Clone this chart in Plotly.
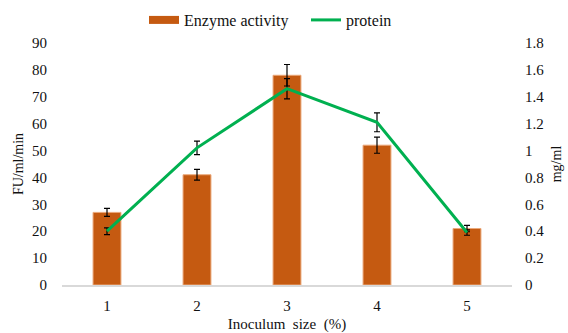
import plotly.graph_objects as go

inoculum = [1, 2, 3, 4, 5]
enzyme_activity = [27, 41, 78, 52, 21]
enzyme_err = [1.5, 2, 4, 3, 1.2]
protein = [0.40, 1.02, 1.46, 1.21, 0.39]
protein_err = [0.025, 0.05, 0.075, 0.07, 0.02]

font_family = "Liberation Serif"
orange = "#C55A11"
green = "#00B050"

fig = go.Figure()
fig.add_trace(go.Bar(
    x=inoculum, y=enzyme_activity, name="Enzyme activity",
    marker=dict(color=orange, line=dict(color="#EBA87A", width=1)),
    width=0.31, showlegend=False,
    error_y=dict(type="data", array=enzyme_err, color="black", thickness=1.2, width=3),
    yaxis="y",
))
# legend entry for bars (wide rectangle swatch)
fig.add_trace(go.Scatter(
    x=[None], y=[None], name="Enzyme activity", mode="lines",
    line=dict(color=orange, width=8), legend="legend", yaxis="y",
))
fig.add_trace(go.Scatter(
    x=inoculum, y=protein, name="protein", mode="lines",
    line=dict(color=green, width=3),
    error_y=dict(type="data", array=protein_err, color="black", thickness=1.2, width=3),
    yaxis="y2", legend="legend2",
))

legend_common = dict(orientation="h", yanchor="middle", y=1.095, xanchor="left",
                     font=dict(size=16, color="#111"), itemwidth=30,
                     bgcolor="rgba(0,0,0,0)", borderwidth=0)

fig.update_layout(
    width=568, height=333,
    margin=dict(l=62, r=56, t=43, b=48, autoexpand=False),
    paper_bgcolor="white", plot_bgcolor="white",
    font=dict(family=font_family, size=15, color="#111"),
    showlegend=True,
    legend=dict(x=(144 - 62) / 450, **legend_common),
    legend2=dict(x=(306 - 62) / 450, **legend_common),
    xaxis=dict(
        range=[0.5, 5.5], tickvals=inoculum, ticktext=[str(v) for v in inoculum],
        showline=True, linecolor="#d9d9d9", linewidth=1.5, ticks="", showgrid=False,
        zeroline=False, ticklabelstandoff=6,
        title=dict(text="Inoculum\u00a0\u00a0size\u00a0\u00a0(%)", font=dict(size=15), standoff=7),
    ),
    yaxis=dict(
        range=[0, 90], dtick=10, showgrid=False, zeroline=False, showline=False,
        ticks="", ticklabelstandoff=14,
        title=dict(text="FU/ml/min", font=dict(size=14), standoff=5),
    ),
    yaxis2=dict(
        range=[0, 1.8], overlaying="y", side="right", showgrid=False,
        zeroline=False, showline=False, ticks="", ticklabelstandoff=12,
        tickvals=[0, 0.2, 0.4, 0.6, 0.8, 1, 1.2, 1.4, 1.6, 1.8],
        ticktext=["0", "0.2", "0.4", "0.6", "0.8", "1", "1.2", "1.4", "1.6", "1.8"],
        title=dict(text="mg/ml", font=dict(size=14), standoff=7),
    ),
)

fig.write_html("out.html", config={"displayModeBar": False},
               post_script="document.body.style.margin='0';")
